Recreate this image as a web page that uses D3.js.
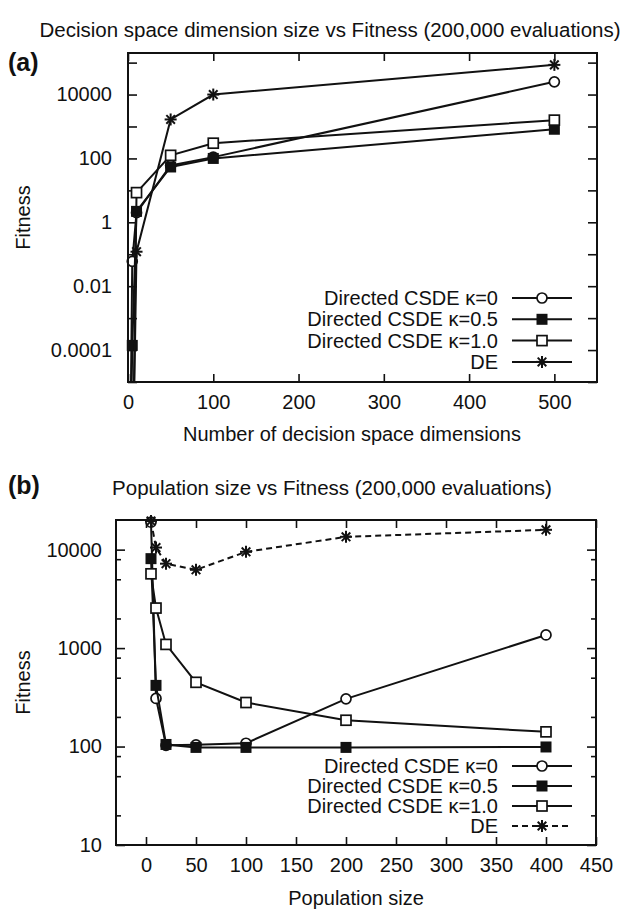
<!DOCTYPE html>
<html>
<head>
<meta charset="utf-8">
<script src="https://cdn.jsdelivr.net/npm/d3@7/dist/d3.min.js"></script>
<style>
  body { margin: 0; background: #fff; }
  text { font-family: "Liberation Sans", Arial, Helvetica, sans-serif; fill: #111; }
</style>
</head>
<body>
<svg id="chart" width="628" height="910"></svg>
<script>
// ---- panel (a) data: decision space dimensions vs fitness
var dims = [2, 5, 10, 50, 100, 500];
var dimK00 = [1e-9, 0.06, 2.0, 60, 110, 25000];
var dimK05 = [1e-9, 0.00014, 2.2, 54, 100, 820];
var dimK10 = [1e-9, 1e-9, 8.5, 125, 300, 1580];
var dimDE  = [1e-9, 1e-9, 0.12, 1660, 10000, 85000];
var xTicksA = [0, 100, 200, 300, 400, 500];
var yTicksA = [1e-4, 0.01, 1, 100, 10000];
var yTickLabelsA = ["0.0001", "0.01", "1", "100", "10000"];

// ---- panel (b) data: population size vs fitness
var pops = [5, 10, 20, 50, 100, 200, 400];
var popK00 = [19000, 308, 103, 104, 108, 305, 1360];
var popK05 = [8100, 418, 105, 98, 98, 98, 99];
var popK10 = [5680, 2550, 1090, 449, 280, 185, 141];
var popDE  = [19500, 10500, 7200, 6240, 9500, 13500, 15900];
var xTicksB = [0, 50, 100, 150, 200, 250, 300, 350, 400, 450];
var yTicksB = [10, 100, 1000, 10000];
var yTickLabelsB = ["10", "100", "1000", "10000"];

var seriesNames = ["Directed CSDE \u03ba=0", "Directed CSDE \u03ba=0.5", "Directed CSDE \u03ba=1.0", "DE"];
var markerTypes = ["circle", "filled", "square", "star"];

var svg = d3.select("#chart");
var FONT = 20;

function drawMarker(g, type, x, y) {
  if (type === "circle") {
    g.append("circle").attr("cx", x).attr("cy", y).attr("r", 5)
      .attr("fill", "#fff").attr("stroke", "#111").attr("stroke-width", 1.7);
  } else if (type === "filled") {
    g.append("rect").attr("x", x - 5.5).attr("y", y - 5.5).attr("width", 11).attr("height", 11)
      .attr("fill", "#111");
  } else if (type === "square") {
    g.append("rect").attr("x", x - 5).attr("y", y - 5).attr("width", 10).attr("height", 10)
      .attr("fill", "#fff").attr("stroke", "#111").attr("stroke-width", 1.7);
  } else {
    var s = 6, d = 4.3;
    var arms = [[-s, 0, s, 0], [0, -s, 0, s], [-d, -d, d, d], [-d, d, d, -d]];
    arms.forEach(function(a) {
      g.append("line").attr("x1", x + a[0]).attr("y1", y + a[1]).attr("x2", x + a[2]).attr("y2", y + a[3])
        .attr("stroke", "#111").attr("stroke-width", 2);
    });
  }
}

function panel(opt) {
  var g = svg.append("g");
  var x = opt.x, y = opt.y;
  var L = x.range()[0], R = x.range()[1], B = y.range()[0], T = y.range()[1];

  // ticks, inward on all four sides
  var decades = opt.yAll;
  g.append("g").attr("transform", "translate(0," + B + ")")
    .call(d3.axisBottom(x).tickValues(opt.xTicks).tickSize(-8).tickPadding(opt.xPad).tickFormat(d3.format("d")));
  g.append("g").attr("transform", "translate(0," + T + ")")
    .call(d3.axisTop(x).tickValues(opt.xTicks).tickSize(-8).tickFormat(""));
  g.append("g").attr("transform", "translate(" + L + ",0)")
    .call(d3.axisLeft(y).tickValues(decades).tickSize(-9).tickPadding(opt.yPad)
      .tickFormat(function(d) { var i = opt.yTicks.indexOf(d); return i < 0 ? "" : opt.yLabels[i]; }));
  g.append("g").attr("transform", "translate(" + R + ",0)")
    .call(d3.axisRight(y).tickValues(decades).tickSize(-9).tickFormat(""));
  if (opt.yMinor) {
    g.append("g").attr("transform", "translate(" + L + ",0)")
      .call(d3.axisLeft(y).tickValues(opt.yMinor).tickSize(-5).tickFormat(""));
    g.append("g").attr("transform", "translate(" + R + ",0)")
      .call(d3.axisRight(y).tickValues(opt.yMinor).tickSize(-5).tickFormat(""));
  }
  g.selectAll(".domain").remove();
  g.selectAll(".tick line").attr("stroke", "#111").attr("stroke-width", 1.6);
  g.selectAll(".tick text").style("font-size", FONT + "px").attr("fill", "#111");

  // clip for the lines
  var clipId = "clip-" + opt.id;
  svg.append("clipPath").attr("id", clipId).append("rect")
    .attr("x", L).attr("y", T).attr("width", R - L).attr("height", B - T);

  var line = d3.line().x(function(d) { return x(d[0]); }).y(function(d) { return y(d[1]); });
  opt.series.forEach(function(vals, i) {
    var pts = opt.xs.map(function(v, j) { return [v, vals[j]]; });
    g.append("path").datum(pts).attr("d", line).attr("clip-path", "url(#" + clipId + ")")
      .attr("fill", "none").attr("stroke", "#111").attr("stroke-width", 2)
      .attr("stroke-dasharray", opt.dashed[i] ? "6,4" : null);
    pts.forEach(function(p) {
      var px = x(p[0]), py = y(p[1]);
      if (py <= B + 0.5 && py >= T - 0.5) drawMarker(g, markerTypes[i], px, py);
    });
  });

  // frame
  g.append("rect").attr("x", L).attr("y", T).attr("width", R - L).attr("height", B - T)
    .attr("fill", "none").attr("stroke", "#111").attr("stroke-width", 2);

  // legend
  seriesNames.forEach(function(name, i) {
    var ly = opt.legY + i * opt.legStep;
    g.append("text").attr("x", 498).attr("y", ly).attr("dy", "0.35em").attr("text-anchor", "end")
      .style("font-size", FONT + "px").text(name);
    g.append("line").attr("x1", 512).attr("x2", 572).attr("y1", ly).attr("y2", ly)
      .attr("stroke", "#111").attr("stroke-width", 2)
      .attr("stroke-dasharray", opt.dashed[i] ? "6,4" : null);
    drawMarker(g, markerTypes[i], 542, ly);
  });

  // titles and labels
  g.append("text").attr("x", opt.titleX).attr("y", opt.titleY).attr("text-anchor", "middle")
    .style("font-size", "20.5px").text(opt.title);
  g.append("text").attr("x", 8).attr("y", opt.tagY).style("font-size", "25px")
    .style("font-weight", "bold").text(opt.tag);
  g.append("text").attr("x", opt.xLabelX).attr("y", opt.xLabelY).attr("text-anchor", "middle")
    .style("font-size", FONT + "px").text(opt.xLabel);
  g.append("text").attr("transform", "translate(30," + ((T + B) / 2) + ") rotate(-90)")
    .attr("text-anchor", "middle").style("font-size", FONT + "px").text("Fitness");
}

panel({
  id: "a",
  x: d3.scaleLinear().domain([0, 550]).range([128, 597]),
  y: d3.scaleLog().domain([1e-5, 2e5]).range([382, 53]),
  xs: dims,
  series: [dimK00, dimK05, dimK10, dimDE],
  dashed: [false, false, false, false],
  xTicks: xTicksA,
  yTicks: yTicksA,
  yLabels: yTickLabelsA,
  yAll: [1e-5, 1e-4, 1e-3, 1e-2, 1e-1, 1, 10, 100, 1000, 10000, 100000],
  yMinor: null,
  xPad: 13, yPad: 16,
  legY: 298, legStep: 21.3,
  title: "Decision space dimension size vs Fitness (200,000 evaluations)",
  titleX: 330, titleY: 37,
  tag: "(a)", tagY: 71,
  xLabel: "Number of decision space dimensions", xLabelX: 352, xLabelY: 441
});

panel({
  id: "b",
  x: d3.scaleLinear().domain([-30, 450]).range([116, 596]),
  y: d3.scaleLog().domain([10, 20000]).range([845, 520]),
  xs: pops,
  series: [popK00, popK05, popK10, popDE],
  dashed: [false, false, false, true],
  xTicks: xTicksB,
  yTicks: yTicksB,
  yLabels: yTickLabelsB,
  yAll: [10, 100, 1000, 10000],
  yMinor: [20, 50, 80, 200, 500, 800, 2000, 5000, 8000],
  xPad: 13, yPad: 14,
  legY: 766, legStep: 20,
  title: "Population size vs Fitness (200,000 evaluations)",
  titleX: 332, titleY: 495,
  tag: "(b)", tagY: 494,
  xLabel: "Population size", xLabelX: 356, xLabelY: 905
});
</script>
</body>
</html>
